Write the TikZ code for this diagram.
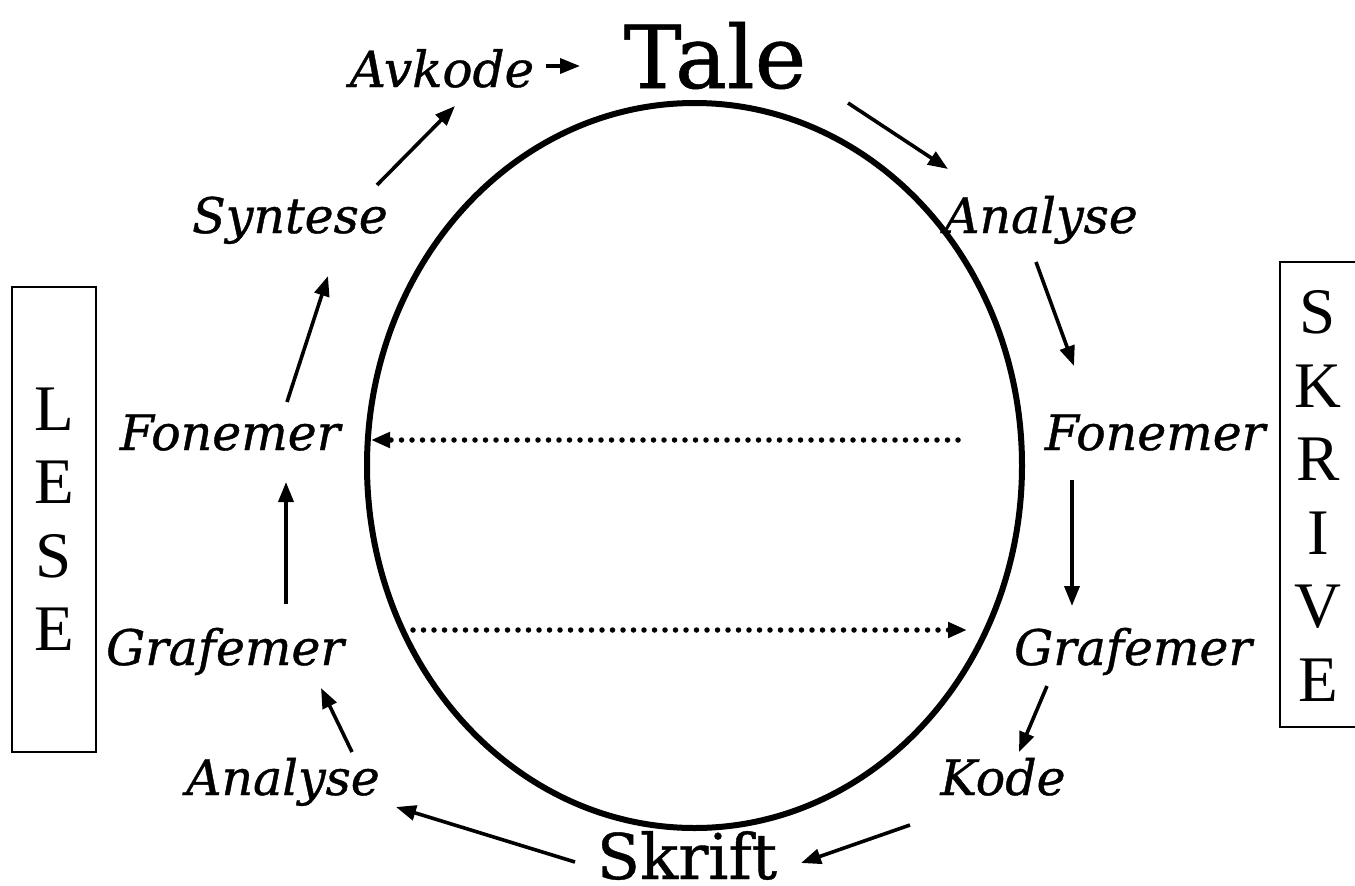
\documentclass[tikz,border=0pt]{standalone}
\usepackage{fontspec}
\setmainfont{DejaVu Serif}[ItalicFeatures={FakeBold=0.8}, UprightFeatures={FakeBold=0.6}]
\newfontfamily\boxfont{Liberation Serif}
\usetikzlibrary{arrows.meta}
\tikzset{
  lbl/.style={anchor=base, inner sep=0pt, font=\fontsize{49}{49}\selectfont\itshape},
  big/.style={anchor=base, inner sep=0pt},
  arr/.style={line width=3.6pt, -{Triangle[length=20pt,width=15pt]}},
  dotarr/.style={line width=5.5pt, line cap=round, dash pattern=on 0pt off 10.5pt, -{Triangle[length=19pt,width=15pt]}},
  vletters/.style={inner sep=0pt, align=center, font=\boxfont\fontsize{65}{73.5}\selectfont},
}
\begin{document}
\begin{tikzpicture}[x=1pt,y=-1pt]
\useasboundingbox (0,0) rectangle (1355,886);
\fill[white] (0,0) rectangle (1355,886);
% ellipse
\coordinate (ctr) at (694.5,465.5);
\draw[line width=6pt] (ctr) ellipse [x radius=327.5, y radius=362.5];
% labels
\node[lbl, font=\fontsize{50}{50}\selectfont\itshape] (avkode) at (442,87) {Avkode};
\node[big, font=\fontsize{87}{87}\selectfont] (tale) at (715,88) {Tale};
\node[lbl] (analyseR) at (1041,233) {Analyse};
\node[lbl] (syntese) at (290,233) {Syntese};
\node[lbl] (fonemerL) at (230,450) {Fonemer};
\node[lbl] (fonemerR) at (1155,450) {Fonemer};
\node[lbl] (grafemerL) at (225,665) {Grafemer};
\node[lbl] (grafemerR) at (1133,665) {Grafemer};
\node[lbl] (analyseL) at (283,795) {Analyse};
\node[lbl] (kode) at (1003,795) {Kode};
\node[big, font=\fontsize{63}{63}\selectfont] (skrift) at (687,879) {Skrift};
% side boxes
\node[draw, line width=1.8pt, minimum width=84pt, minimum height=465pt, inner sep=0pt] (lesebox) at (54,519.5) {};
\node[vletters] (lese) at (54,519) {L\\E\\S\\E};
\draw[line width=1.8pt] (1370,262) -- (1280,262) -- (1280,727) -- (1370,727);
\node[vletters] (skrive) at (1318,496) {S\\K\\R\\I\\V\\E};
% arrow end points
\coordinate (p1a) at (546,66);  \coordinate (p1b) at (580,66);
\coordinate (p2a) at (848,103); \coordinate (p2b) at (948,169);
\coordinate (p3a) at (1036,262);\coordinate (p3b) at (1074,366);
\coordinate (p4a) at (1072,480);\coordinate (p4b) at (1072,606);
\coordinate (p5a) at (1047,686);\coordinate (p5b) at (1019,752);
\coordinate (p6a) at (910,825); \coordinate (p6b) at (801,863);
\coordinate (p7a) at (575,862); \coordinate (p7b) at (396,807);
\coordinate (p8a) at (352,752); \coordinate (p8b) at (321,688);
\coordinate (p9a) at (286,604); \coordinate (p9b) at (286,482);
\coordinate (p10a) at (287,402);\coordinate (p10b) at (328,276);
\coordinate (p11a) at (377,185);\coordinate (p11b) at (455,106);
\coordinate (d1a) at (958,440); \coordinate (d1b) at (371,440);
\coordinate (d2a) at (413,630); \coordinate (d2b) at (967,630);
% arrows
\draw[arr] (p1a) -- (p1b);
\draw[arr] (p2a) -- (p2b);
\draw[arr] (p3a) -- (p3b);
\draw[arr] (p4a) -- (p4b);
\draw[arr] (p5a) -- (p5b);
\draw[arr] (p6a) -- (p6b);
\draw[arr] (p7a) -- (p7b);
\draw[arr] (p8a) -- (p8b);
\draw[arr] (p9a) -- (p9b);
\draw[arr] (p10a) -- (p10b);
\draw[arr] (p11a) -- (p11b);
\draw[dotarr] (d1a) -- (d1b);
\draw[dotarr] (d2a) -- (d2b);
\end{tikzpicture}
\end{document}
